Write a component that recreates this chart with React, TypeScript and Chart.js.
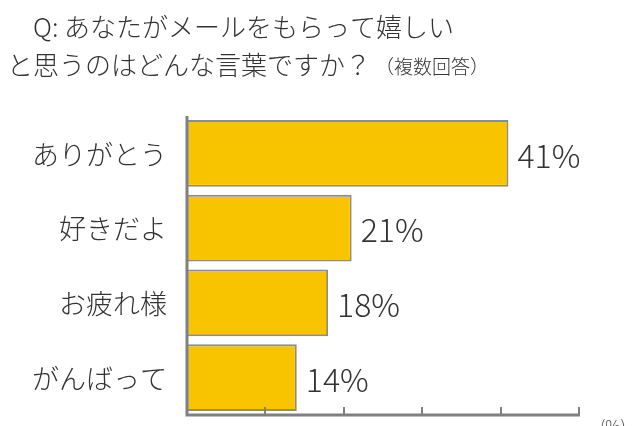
import React, { useEffect, useRef } from "react";
import { Chart, registerables } from "chart.js";

Chart.register(...registerables);

const categories = ["ありがとう", "好きだよ", "お疲れ様", "がんばって"];
const values = [41, 21, 18, 14];
const valueLabels = ["41%", "21%", "18%", "14%"];
const titleLine1 = "Q: あなたがメールをもらって嬉しい";
const titleLine2 = "と思うのはどんな言葉ですか？";
const titleNote = "（複数回答）";
const unitLabel = "(%)";
const xMax = 50;
const xStep = 10;

const FONT = '"Noto Sans CJK JP", "Noto Sans", sans-serif';

const overlayPlugin = {
  id: "overlay",
  afterDatasetsDraw(chart: any) {
    const ctx = chart.ctx as CanvasRenderingContext2D;
    const area = chart.chartArea;
    const xs = chart.scales.x;
    const ys = chart.scales.y;
    const meta = chart.getDatasetMeta(0);
    ctx.save();
    // category labels
    ctx.fillStyle = "#333333";
    ctx.font = `300 27px ${FONT}`;
    ctx.textAlign = "right";
    ctx.textBaseline = "middle";
    categories.forEach((c, i) => {
      ctx.fillText(c, area.left - 20, ys.getPixelForValue(i) + 1);
    });
    // value labels
    ctx.font = `300 32px ${FONT}`;
    ctx.textAlign = "left";
    meta.data.forEach((bar: any, i: number) => {
      ctx.fillText(valueLabels[i], bar.x + 9, bar.y + 2);
    });
    // axes
    ctx.strokeStyle = "#808080";
    ctx.lineWidth = 3;
    ctx.lineCap = "butt";
    ctx.beginPath();
    ctx.moveTo(area.left, area.top);
    ctx.lineTo(area.left, area.bottom);
    ctx.lineTo(area.right + 1, area.bottom);
    ctx.stroke();
    ctx.lineWidth = 2;
    for (let v = xStep; v <= xMax; v += xStep) {
      const px = Math.round(xs.getPixelForValue(v));
      ctx.beginPath();
      ctx.moveTo(px, area.bottom);
      ctx.lineTo(px, area.bottom - 8);
      ctx.stroke();
    }
    // unit
    ctx.fillStyle = "#444444";
    ctx.font = `300 17px ${FONT}`;
    ctx.textAlign = "left";
    ctx.textBaseline = "middle";
    ctx.fillText(unitLabel, area.right + 21, area.bottom + 12);
    // title
    ctx.fillStyle = "#333333";
    ctx.font = `300 26px ${FONT}`;
    ctx.textBaseline = "middle";
    ctx.fillText(titleLine1, 33, 27);
    ctx.fillText(titleLine2, 7, 65);
    ctx.font = `300 19px ${FONT}`;
    ctx.fillText(titleNote, 375, 67);
    ctx.restore();
  },
};

export default function App() {
  const ref = useRef<HTMLCanvasElement>(null);
  useEffect(() => {
    if (!ref.current) return;
    const chart = new Chart(ref.current, {
      type: "bar",
      data: {
        labels: categories,
        datasets: [
          {
            data: values,
            backgroundColor: "#F8C400",
            borderColor: "#8C8C8C",
            borderWidth: 2,
            borderSkipped: "start",
            barPercentage: 0.89,
            categoryPercentage: 1,
          },
        ],
      },
      options: {
        indexAxis: "y",
        animation: false,
        responsive: false,
        maintainAspectRatio: false,
        layout: { padding: { left: 187, right: 61, top: 116, bottom: 11 } },
        plugins: {
          legend: { display: false },
          title: { display: false },
          tooltip: { enabled: false },
        },
        scales: {
          x: {
            display: false,
            min: 0,
            max: xMax,
            ticks: { stepSize: xStep },
          },
          y: {
            display: false,
          },
        },
      },
      plugins: [overlayPlugin],
    });
    return () => chart.destroy();
  }, []);
  return (
    <div style={{ position: "fixed", left: 0, top: 0, width: 640, height: 426, background: "#ffffff" }}>
      <canvas ref={ref} width={640} height={426} style={{ width: 640, height: 426 }} />
    </div>
  );
}
